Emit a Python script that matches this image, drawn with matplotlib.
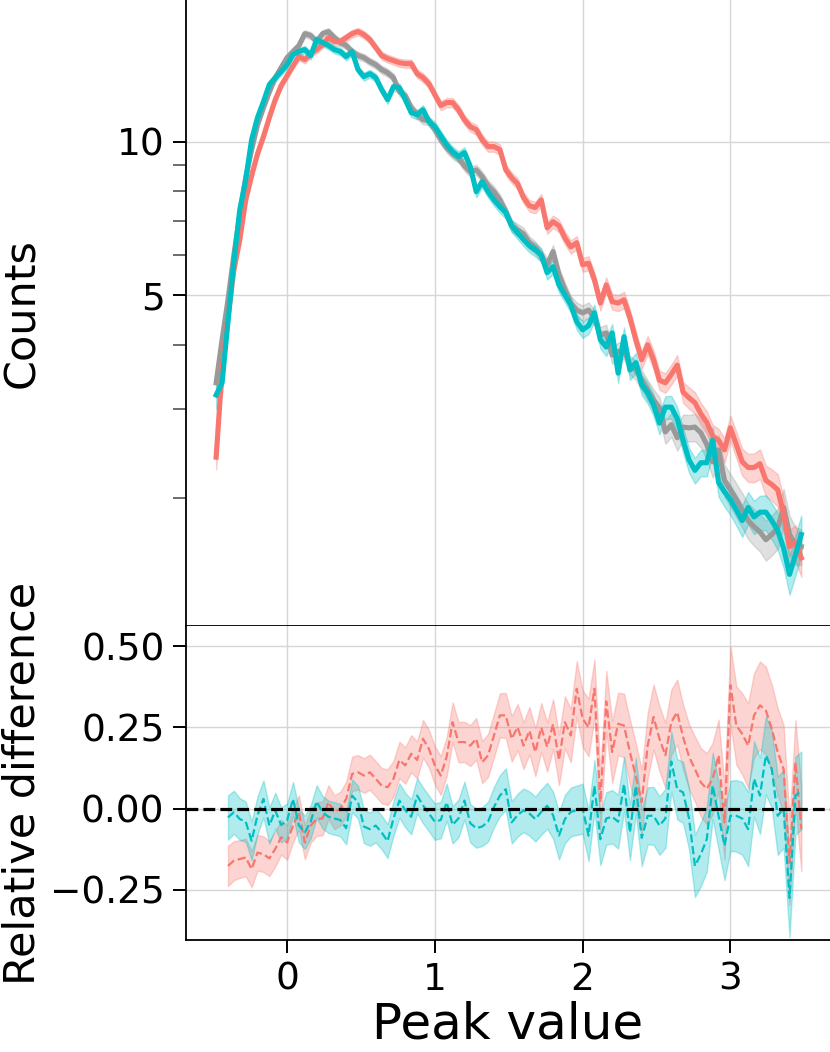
import numpy as np
import matplotlib
matplotlib.use("Agg")
import matplotlib.pyplot as plt
from matplotlib.ticker import FixedLocator, NullFormatter, FixedFormatter

plt.rcParams['font.family'] = ['DejaVu Sans']

# ---------------- data ----------------
x_start = -0.48
bin_width = 0.04
n_bins = 100
diff_start = 2  # relative difference shown from the third bin on

counts_gray = [3.37, 4.09, 4.90, 6.00, 7.19, 8.50, 9.65, 10.80, 11.66, 12.53,
               13.35, 13.97, 14.61, 15.02, 15.43, 16.28, 16.14, 15.71, 16.28, 16.43,
               15.99, 15.64, 15.43, 15.02, 14.75, 14.61, 14.35, 14.15, 13.84, 13.65,
               13.35, 12.53, 12.31, 11.66, 11.30, 11.04, 10.99, 10.56, 10.09, 9.73,
               9.47, 9.30, 8.97, 8.73, 8.81, 8.54, 8.20, 7.98, 7.69, 7.29,
               6.84, 6.72, 6.60, 6.34, 6.20, 5.98, 5.74, 6.09, 5.49, 5.13,
               4.83, 4.68, 4.62, 4.68, 4.52, 4.18, 4.22, 3.82, 3.88, 3.91,
               3.65, 3.57, 3.41, 3.26, 3.12, 3.01, 2.70, 2.79, 2.63, 2.76,
               2.75, 2.76, 2.69, 2.55, 2.36, 2.49, 2.17, 2.08, 1.99, 1.90,
               1.81, 1.76, 1.72, 1.66, 1.70, 1.75, 1.92, 1.70, 1.62, 1.61]

counts_red = [2.41, 3.57, 4.52, 5.61, 6.43, 7.69, 8.58, 9.47, 10.23, 11.15,
              12.09, 12.88, 13.47, 14.09, 14.68, 14.48, 14.88, 15.15, 15.50, 15.99,
              15.71, 15.71, 15.99, 16.28, 16.43, 16.21, 15.85, 15.29, 14.75, 14.55,
              14.41, 14.28, 14.22, 14.22, 13.59, 13.35, 12.99, 12.36, 11.77, 11.93,
              11.93, 11.55, 11.04, 10.70, 10.56, 10.09, 9.78, 9.78, 9.65, 8.81,
              8.50, 8.27, 7.77, 7.49, 7.43, 7.69, 6.78, 6.97, 6.84, 6.48,
              6.22, 6.34, 5.74, 5.78, 5.36, 4.83, 5.24, 4.86, 4.83, 4.90,
              4.52, 4.09, 3.74, 4.00, 3.74, 3.41, 3.37, 3.50, 3.65, 3.23,
              3.15, 3.08, 2.93, 2.82, 2.65, 2.60, 2.49, 2.75, 2.55, 2.36,
              2.30, 2.30, 2.34, 2.17, 2.13, 2.08, 1.87, 1.61, 1.64, 1.53]

counts_teal = [3.19, 3.37, 4.44, 5.82, 7.36, 8.42, 10.09, 11.15, 11.98, 12.94,
               13.35, 13.72, 14.15, 14.81, 15.02, 15.15, 14.75, 15.85, 15.64, 15.43,
               15.15, 15.02, 14.68, 15.02, 13.84, 13.41, 13.59, 13.35, 12.65, 12.09,
               12.82, 12.76, 12.09, 11.40, 11.30, 11.55, 10.94, 10.70, 10.27, 9.86,
               9.56, 9.35, 9.52, 8.93, 7.98, 8.35, 7.98, 7.69, 7.46, 7.26,
               6.84, 6.63, 6.43, 6.25, 6.14, 6.00, 5.54, 5.69, 5.24, 5.01,
               4.79, 4.44, 4.28, 4.36, 4.62, 4.09, 3.96, 4.22, 3.52, 4.15,
               3.57, 3.69, 3.34, 3.22, 3.05, 2.81, 3.02, 3.02, 2.87, 2.60,
               2.38, 2.27, 2.35, 2.35, 2.60, 2.15, 2.06, 1.99, 1.90, 1.81,
               1.92, 1.84, 1.88, 1.88, 1.81, 1.73, 1.60, 1.42, 1.55, 1.70]

# relative uncertainty of the counts (band half-width / value)
relerr_gray = [0.050, 0.042, 0.035, 0.030, 0.026, 0.023, 0.021, 0.019, 0.018, 0.017,
               0.017, 0.016, 0.016, 0.016, 0.016, 0.016, 0.016, 0.016, 0.016, 0.016,
               0.016, 0.016, 0.016, 0.016, 0.017, 0.017, 0.017, 0.017, 0.018, 0.018,
               0.018, 0.019, 0.019, 0.019, 0.020, 0.020, 0.020, 0.021, 0.021, 0.022,
               0.022, 0.022, 0.023, 0.023, 0.023, 0.024, 0.024, 0.025, 0.025, 0.026,
               0.026, 0.027, 0.027, 0.028, 0.028, 0.029, 0.030, 0.030, 0.031, 0.032,
               0.033, 0.034, 0.034, 0.035, 0.036, 0.037, 0.038, 0.039, 0.040, 0.041,
               0.042, 0.043, 0.045, 0.046, 0.048, 0.050, 0.052, 0.054, 0.056, 0.058,
               0.060, 0.062, 0.064, 0.066, 0.068, 0.070, 0.072, 0.074, 0.076, 0.078,
               0.080, 0.082, 0.085, 0.090, 0.090, 0.090, 0.088, 0.088, 0.085, 0.080]

relerr_red = [0.055, 0.045, 0.038, 0.032, 0.028, 0.025, 0.022, 0.020, 0.019, 0.018,
              0.017, 0.017, 0.017, 0.017, 0.017, 0.017, 0.017, 0.017, 0.017, 0.017,
              0.017, 0.017, 0.017, 0.017, 0.017, 0.017, 0.017, 0.017, 0.018, 0.018,
              0.018, 0.018, 0.019, 0.019, 0.019, 0.020, 0.020, 0.020, 0.021, 0.021,
              0.021, 0.022, 0.022, 0.022, 0.023, 0.023, 0.023, 0.023, 0.024, 0.024,
              0.024, 0.025, 0.025, 0.026, 0.026, 0.027, 0.027, 0.028, 0.028, 0.029,
              0.030, 0.030, 0.031, 0.032, 0.033, 0.034, 0.034, 0.035, 0.036, 0.037,
              0.038, 0.039, 0.040, 0.041, 0.042, 0.043, 0.044, 0.045, 0.046, 0.047,
              0.048, 0.049, 0.050, 0.051, 0.052, 0.053, 0.055, 0.057, 0.059, 0.061,
              0.063, 0.065, 0.067, 0.069, 0.071, 0.073, 0.075, 0.078, 0.080, 0.082]

relerr_teal = [0.060, 0.050, 0.040, 0.034, 0.029, 0.025, 0.022, 0.020, 0.019, 0.018,
               0.017, 0.017, 0.017, 0.017, 0.017, 0.017, 0.017, 0.017, 0.017, 0.017,
               0.017, 0.017, 0.017, 0.017, 0.018, 0.018, 0.018, 0.018, 0.019, 0.019,
               0.019, 0.019, 0.020, 0.020, 0.021, 0.021, 0.021, 0.022, 0.022, 0.023,
               0.023, 0.024, 0.024, 0.024, 0.025, 0.025, 0.026, 0.026, 0.027, 0.027,
               0.028, 0.028, 0.029, 0.029, 0.030, 0.030, 0.031, 0.032, 0.032, 0.033,
               0.034, 0.035, 0.036, 0.037, 0.038, 0.039, 0.040, 0.041, 0.042, 0.043,
               0.044, 0.045, 0.046, 0.047, 0.048, 0.050, 0.051, 0.052, 0.053, 0.055,
               0.056, 0.058, 0.059, 0.060, 0.062, 0.063, 0.065, 0.067, 0.069, 0.071,
               0.073, 0.075, 0.077, 0.079, 0.081, 0.083, 0.085, 0.088, 0.090, 0.090]

# relative difference to the gray reference (bins 2..99)
reldiff_red = [-0.176, -0.160, -0.155, -0.150, -0.186, -0.135, -0.140, -0.153, -0.124, -0.088,
               -0.104, -0.052, -0.011, -0.104, -0.052, -0.032, -0.030, 0.020, -0.011, 0.000,
               0.030, 0.107, 0.112, 0.102, 0.112, 0.092, 0.071, 0.066, 0.092, 0.150,
               0.133, 0.169, 0.150, 0.215, 0.184, 0.133, 0.102, 0.160, 0.266, 0.205,
               0.205, 0.194, 0.215, 0.143, 0.164, 0.225, 0.287, 0.287, 0.215, 0.251,
               0.194, 0.240, 0.174, 0.250, 0.190, 0.260, 0.150, 0.266, 0.225, 0.369,
               0.277, 0.250, 0.369, 0.020, 0.330, 0.174, 0.261, 0.256, 0.174, 0.100,
               0.020, 0.194, 0.282, 0.215, 0.164, 0.266, 0.297, 0.220, 0.160, 0.122,
               0.081, 0.061, 0.092, 0.164, -0.042, 0.380, 0.256, 0.230, 0.194, 0.287,
               0.318, 0.302, 0.246, 0.174, 0.122, -0.166, 0.143, -0.063]

reldiff_teal = [-0.027, -0.011, -0.032, -0.040, -0.099, -0.020, 0.030, -0.052, -0.006, -0.050,
                -0.037, 0.030, -0.052, -0.073, -0.040, 0.022, -0.011, -0.025, -0.030, -0.035,
                -0.060, 0.040, 0.020, -0.055, -0.063, -0.052, -0.073, -0.100, -0.030, 0.025,
                -0.005, -0.025, 0.040, 0.010, -0.015, -0.040, -0.035, 0.020, -0.050, -0.030,
                0.025, -0.045, -0.060, -0.055, -0.040, 0.005, 0.040, 0.060, -0.042, -0.020,
                -0.005, -0.015, -0.032, -0.010, 0.009, -0.020, -0.083, -0.032, -0.010, -0.005,
                0.000, -0.083, 0.071, -0.094, -0.030, -0.025, -0.040, 0.076, -0.073, 0.070,
                -0.090, -0.022, -0.022, -0.052, -0.030, 0.145, 0.060, 0.050, -0.030, -0.176,
                -0.140, -0.094, 0.071, -0.022, -0.114, -0.022, -0.022, -0.030, -0.063, 0.092,
                0.040, 0.164, 0.122, -0.022, 0.000, -0.275, 0.040, 0.056]

err_reldiff_red = [0.062, 0.060, 0.058, 0.058, 0.056, 0.055, 0.055, 0.054, 0.054, 0.053,
                   0.053, 0.052, 0.052, 0.052, 0.052, 0.052, 0.052, 0.052, 0.052, 0.052,
                   0.053, 0.053, 0.053, 0.053, 0.054, 0.054, 0.054, 0.055, 0.055, 0.056,
                   0.056, 0.057, 0.057, 0.058, 0.058, 0.059, 0.060, 0.060, 0.061, 0.062,
                   0.062, 0.063, 0.064, 0.065, 0.066, 0.067, 0.068, 0.069, 0.070, 0.071,
                   0.072, 0.073, 0.074, 0.075, 0.076, 0.077, 0.078, 0.080, 0.082, 0.085,
                   0.087, 0.089, 0.090, 0.092, 0.094, 0.095, 0.096, 0.098, 0.100, 0.100,
                   0.100, 0.100, 0.100, 0.100, 0.100, 0.100, 0.100, 0.100, 0.100, 0.100,
                   0.105, 0.110, 0.110, 0.110, 0.115, 0.120, 0.120, 0.125, 0.130, 0.130,
                   0.135, 0.135, 0.135, 0.135, 0.135, 0.130, 0.130, 0.130]

err_reldiff_teal = [0.068, 0.066, 0.064, 0.062, 0.060, 0.058, 0.057, 0.056, 0.055, 0.054,
                    0.053, 0.052, 0.052, 0.051, 0.051, 0.050, 0.050, 0.050, 0.050, 0.050,
                    0.050, 0.050, 0.051, 0.051, 0.051, 0.052, 0.052, 0.052, 0.053, 0.053,
                    0.053, 0.054, 0.054, 0.055, 0.055, 0.056, 0.056, 0.057, 0.057, 0.058,
                    0.058, 0.059, 0.060, 0.060, 0.061, 0.062, 0.063, 0.064, 0.065, 0.066,
                    0.067, 0.068, 0.069, 0.070, 0.071, 0.072, 0.073, 0.074, 0.075, 0.076,
                    0.077, 0.078, 0.079, 0.080, 0.081, 0.082, 0.083, 0.084, 0.085, 0.086,
                    0.087, 0.088, 0.089, 0.090, 0.091, 0.092, 0.093, 0.094, 0.095, 0.096,
                    0.098, 0.100, 0.102, 0.104, 0.106, 0.108, 0.110, 0.112, 0.114, 0.116,
                    0.118, 0.120, 0.120, 0.120, 0.120, 0.120, 0.120, 0.120]

count_ticks = [5, 10]
count_tick_labels = ["5", "10"]
count_minor_ticks = [2, 3, 4, 6, 7, 8, 9]
diff_ticks = [-0.25, 0.0, 0.25, 0.5]
diff_tick_labels = ["\u22120.25", "0.00", "0.25", "0.50"]
x_ticks = [0, 1, 2, 3]

# ---------------- styling ----------------
C_GRAY = "#999999"
C_RED = "#F8766D"
C_TEAL = "#00BFC4"
GRID = "#d6d6d6"
TICK_FS = 27
YLABEL_FS = 31
XLABEL_FS = 36

x = x_start + bin_width * np.arange(n_bins)
xd = x[diff_start:]

W, H = 830, 1052
fig = plt.figure(figsize=(W / 100, H / 100), dpi=100)
left = 186 / W
ax1 = fig.add_axes([left, (H - 626) / H, 1 - left, 626 / H])
ax2 = fig.add_axes([left, (H - 940) / H, 1 - left, 314 / H], sharex=ax1)

# top panel
for vals, errs, col in [(counts_gray, relerr_gray, C_GRAY),
                        (counts_red, relerr_red, C_RED),
                        (counts_teal, relerr_teal, C_TEAL)]:
    v = np.array(vals)
    e = np.array(errs)
    ax1.fill_between(x, v * (1 - e), v * (1 + e), color=col, alpha=0.3, lw=1.0, zorder=2)
    ax1.plot(x, v, color=col, lw=3.7, zorder=3)

ax1.set_yscale("log")
ax1.set_ylim(1.125, 18.95)
ax1.yaxis.set_major_locator(FixedLocator(count_ticks))
ax1.yaxis.set_major_formatter(FixedFormatter(count_tick_labels))
ax1.yaxis.set_minor_locator(FixedLocator(count_minor_ticks))
ax1.yaxis.set_minor_formatter(NullFormatter())
ax1.grid(True, which="major", color=GRID, lw=1.0, zorder=0)
ax1.set_axisbelow(True)
ax1.tick_params(axis="x", which="both", length=0, labelbottom=False)
ax1.tick_params(axis="y", which="major", length=9.5, width=1.4, labelsize=TICK_FS, pad=6, color="black")
ax1.tick_params(axis="y", which="minor", length=9.5, width=1.1, color="#444444")
ax1.set_ylabel("Counts", fontsize=YLABEL_FS)
for s in ["top", "right"]:
    ax1.spines[s].set_visible(False)
ax1.spines["left"].set_linewidth(1.3)
ax1.spines["bottom"].set_linewidth(1.3)

# bottom panel
for vals, errs, col in [(reldiff_red, err_reldiff_red, C_RED),
                        (reldiff_teal, err_reldiff_teal, C_TEAL)]:
    v = np.array(vals)
    e = np.array(errs)
    ax2.fill_between(xd, v - e, v + e, color=col, alpha=0.3, lw=1.0, zorder=2)
    ax2.plot(xd, v, color=col, lw=1.6, ls="--", zorder=3)
ax2.axhline(0.0, color="black", lw=2.3, ls="--", zorder=4)

ax2.set_ylim(-0.404, 0.562)
ax2.set_xlim(-0.684, 3.674)
ax2.yaxis.set_major_locator(FixedLocator(diff_ticks))
ax2.yaxis.set_major_formatter(FixedFormatter(diff_tick_labels))
ax2.xaxis.set_major_locator(FixedLocator(x_ticks))
ax2.grid(True, which="major", color=GRID, lw=1.0, zorder=0)
ax2.set_axisbelow(True)
ax2.tick_params(axis="both", which="major", length=9.5, width=1.4, labelsize=TICK_FS, pad=6)
ax2.set_ylabel("Relative difference", fontsize=YLABEL_FS)
ax2.set_xlabel("Peak value", fontsize=XLABEL_FS, labelpad=2)
for s in ["top", "right"]:
    ax2.spines[s].set_visible(False)
ax2.spines["left"].set_linewidth(1.3)
ax2.spines["bottom"].set_linewidth(1.3)

ax1.yaxis.set_label_coords(-0.222, 0.5)
ax2.yaxis.set_label_coords(-0.222, 0.5)

fig.savefig("out.png", dpi=100)
